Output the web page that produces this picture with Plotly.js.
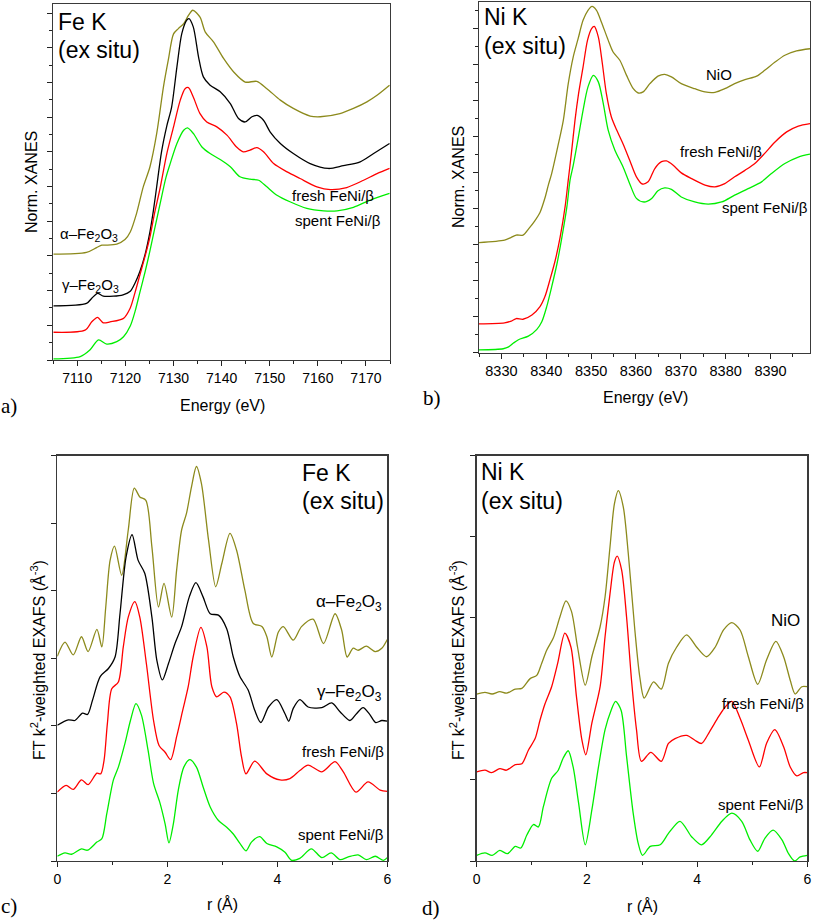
<!DOCTYPE html>
<html>
<head>
<meta charset="utf-8">
<script src="https://cdn.plot.ly/plotly-3.0.1.min.js"></script>
<style>html,body{margin:0;padding:0;background:#fff}#chart{width:813px;height:921px}</style>
</head>
<body>
<div id="chart"></div>
<script>
// ---------- Panel a: Fe K XANES ----------
const aAlphaE = [7105.0,7111.9,7114.0,7115.1,7116.1,7118.2,7119.9,7121.0,7122.3,7123.7,7125.1,7126.5,7127.9,7128.9,7130.0,7131.0,7132.1,7133.1,7134.0,7135.5,7136.6,7138.3,7140.4,7142.5,7144.9,7147.3,7149.4,7152.2,7154.9,7158.4,7160.5,7164.6,7167.4,7170.2,7172.3,7174.9];
const aAlpha  = [3.05,3.10,3.24,3.31,3.31,3.34,3.47,3.69,4.22,4.99,5.57,6.53,7.87,8.64,9.40,9.55,9.69,9.93,10.08,9.88,9.45,9.17,8.69,8.30,8.01,8.03,7.82,7.49,7.25,7.03,7.01,7.10,7.25,7.44,7.63,7.92];
const aGammaE = [7105.0,7111.9,7113.0,7114.2,7115.4,7117.5,7119.5,7121.0,7122.0,7123.0,7124.1,7125.1,7125.8,7126.5,7127.5,7128.6,7129.6,7130.7,7131.7,7132.7,7133.2,7134.1,7135.2,7136.2,7137.6,7139.7,7141.8,7143.5,7144.9,7146.3,7147.4,7148.7,7150.1,7152.2,7154.9,7158.4,7162.2,7165.3,7168.8,7171.6,7174.9];
const aGamma  = [1.56,1.63,1.78,1.92,1.84,1.84,1.88,1.98,2.22,2.55,3.05,3.70,4.30,5.00,6.00,6.75,7.29,8.45,9.40,9.79,9.84,9.60,8.73,8.16,7.92,7.73,7.39,6.96,6.86,7.01,7.05,6.91,6.57,6.24,5.95,5.66,5.52,5.60,5.71,5.95,6.24];
const aFreshE = [7105.0,7111.6,7113.0,7114.2,7115.4,7116.8,7119.6,7121.0,7122.0,7123.0,7124.1,7125.1,7126.0,7127.2,7128.6,7130.0,7131.4,7132.4,7133.1,7134.1,7135.5,7136.9,7139.0,7141.1,7143.1,7144.5,7145.9,7147.3,7148.7,7150.8,7153.6,7156.3,7159.8,7162.6,7166.0,7169.5,7172.3,7174.9];
const aFresh  = [0.80,0.86,1.10,1.23,1.07,1.10,1.20,1.50,1.95,2.45,3.00,3.55,4.20,4.95,5.95,6.72,7.49,7.82,7.85,7.58,7.10,6.86,6.72,6.48,6.14,6.00,6.05,6.12,6.00,5.66,5.42,5.23,4.99,4.91,4.97,5.18,5.37,5.52];
const aSpentE = [7105.0,7110.6,7112.6,7114.4,7116.1,7118.2,7119.6,7121.0,7122.0,7123.0,7124.1,7125.1,7126.1,7127.2,7128.4,7129.3,7130.7,7132.1,7132.9,7134.1,7135.9,7137.6,7139.7,7141.8,7143.8,7145.9,7147.7,7149.4,7151.5,7154.2,7157.7,7161.2,7164.0,7167.4,7170.9,7174.9];
const aSpent  = [0.03,0.10,0.29,0.58,0.46,0.53,0.67,0.98,1.40,1.95,2.55,3.15,3.80,4.50,5.25,5.66,6.24,6.62,6.69,6.53,6.14,5.95,5.78,5.57,5.28,5.21,5.18,4.99,4.75,4.56,4.37,4.30,4.30,4.40,4.61,4.80];

// ---------- Panel b: Ni K XANES ----------
const bNiOE   = [8324.9,8330.7,8332.1,8333.3,8334.8,8336.1,8337.4,8338.6,8339.7,8340.5,8341.2,8342.6,8343.8,8344.9,8346.0,8347.1,8348.2,8349.3,8350.2,8351.2,8352.3,8353.8,8354.9,8356.4,8357.9,8359.4,8360.5,8361.6,8363.1,8364.9,8366.4,8367.9,8370.1,8373.1,8375.4,8377.6,8379.8,8382.0,8384.3,8386.9,8388.7,8391.0,8393.2,8395.8,8398.8];
const bNiO    = [3.06,3.13,3.20,3.27,3.27,3.45,3.66,3.90,4.30,4.68,4.98,5.75,6.46,7.48,8.22,8.73,9.24,9.52,9.63,9.52,9.19,8.69,8.36,8.13,7.71,7.34,7.22,7.25,7.48,7.69,7.74,7.67,7.48,7.34,7.25,7.24,7.34,7.48,7.59,7.69,7.85,8.08,8.27,8.39,8.45];
const bFreshE = [8324.9,8330.7,8332.2,8333.3,8334.8,8336.8,8338.6,8339.7,8340.8,8342.0,8343.1,8344.2,8344.9,8345.6,8346.4,8347.2,8348.2,8349.2,8350.1,8350.7,8351.6,8352.5,8353.4,8354.5,8355.7,8357.1,8358.6,8360.1,8361.4,8362.7,8364.2,8365.7,8366.8,8368.3,8370.1,8372.4,8375.4,8377.6,8379.8,8382.0,8384.3,8386.5,8388.7,8391.0,8393.6,8396.2,8398.8];
const bFresh  = [0.80,0.83,0.88,0.95,0.93,1.05,1.28,1.56,2.02,2.57,3.22,4.06,4.80,5.54,6.46,7.20,7.94,8.69,9.01,9.07,8.78,8.04,7.20,6.56,6.19,5.81,5.35,4.89,4.69,4.75,5.12,5.31,5.33,5.21,5.00,4.84,4.66,4.61,4.70,4.89,5.07,5.26,5.54,5.86,6.14,6.30,6.37];
const bSpentE = [8324.9,8330.4,8331.6,8332.7,8333.8,8336.0,8337.9,8339.0,8340.1,8341.2,8342.4,8343.5,8344.6,8345.3,8346.0,8347.1,8348.2,8349.3,8350.5,8351.6,8352.7,8353.8,8355.3,8357.1,8358.6,8360.1,8361.8,8363.5,8364.9,8366.4,8367.9,8370.1,8373.1,8376.1,8379.1,8382.0,8385.0,8388.0,8390.2,8393.2,8396.2,8398.8];
const bSpent  = [0.08,0.11,0.16,0.27,0.36,0.46,0.65,0.86,1.28,1.83,2.48,3.22,4.06,4.80,5.20,5.95,6.74,7.39,7.71,7.53,6.93,6.19,5.63,5.17,4.70,4.29,4.19,4.29,4.50,4.58,4.54,4.33,4.19,4.13,4.19,4.38,4.56,4.75,4.98,5.26,5.44,5.52];

// ---------- Panel c: Fe K FT-EXAFS ----------
const cAlphaR = [0.00,0.14,0.29,0.44,0.56,0.72,0.81,0.88,0.96,1.04,1.17,1.29,1.40,1.50,1.61,1.72,1.84,1.94,2.08,2.17,2.26,2.35,2.44,2.53,2.62,2.75,2.88,2.99,3.14,3.26,3.41,3.56,3.72,3.81,3.90,4.02,4.11,4.29,4.44,4.65,4.84,5.05,5.17,5.27,5.38,5.47,5.62,5.78,5.90,6.00];
const cAlpha  = [3.03,3.24,3.05,3.32,3.10,3.43,3.17,3.75,4.45,4.66,4.23,4.90,5.52,5.39,5.34,4.65,3.76,4.11,3.61,4.31,4.90,5.15,5.54,5.84,5.59,4.75,4.06,4.40,4.85,4.60,4.01,3.52,3.47,3.32,3.02,3.39,3.47,3.27,3.47,3.58,3.22,3.66,3.42,3.02,3.15,3.12,3.18,3.10,3.15,3.28];
const cGammaR = [0.00,0.20,0.32,0.46,0.55,0.64,0.78,0.93,1.05,1.14,1.25,1.36,1.47,1.59,1.72,1.81,1.91,2.02,2.14,2.26,2.40,2.52,2.65,2.78,2.93,3.08,3.20,3.32,3.47,3.59,3.70,3.84,3.99,4.14,4.21,4.29,4.41,4.56,4.81,4.99,5.14,5.32,5.44,5.56,5.68,5.79,5.90,6.00];
const cGamma  = [2.01,2.09,2.08,2.19,2.17,2.38,2.73,2.85,3.02,3.66,4.50,4.83,4.45,4.26,3.61,2.97,2.68,2.92,3.22,3.47,3.91,4.12,3.91,3.66,3.64,3.44,3.02,2.73,2.53,2.23,2.05,2.28,2.39,2.18,2.07,2.26,2.39,2.28,2.27,2.34,2.21,2.08,2.18,2.27,2.17,2.05,2.08,2.07];
const cFreshR = [0.00,0.16,0.29,0.44,0.56,0.72,0.79,0.85,0.91,0.99,1.11,1.20,1.29,1.41,1.50,1.62,1.75,1.85,1.96,2.06,2.17,2.28,2.38,2.47,2.61,2.72,2.81,2.90,3.03,3.14,3.26,3.35,3.43,3.59,3.81,4.05,4.23,4.41,4.56,4.81,5.05,5.20,5.43,5.65,5.87,6.00];
const cFresh  = [1.02,1.12,1.06,1.20,1.13,1.30,1.29,1.49,2.03,2.55,2.65,3.17,3.61,3.84,3.61,2.92,2.08,1.71,1.61,1.50,1.84,2.23,2.58,3.02,3.46,3.17,2.58,2.43,2.50,2.43,2.03,1.54,1.29,1.48,1.29,1.20,1.22,1.34,1.42,1.32,1.47,1.32,1.02,1.17,1.05,1.03];
const cSpentR = [0.00,0.14,0.26,0.44,0.55,0.72,0.81,0.90,1.02,1.11,1.23,1.33,1.43,1.53,1.65,1.75,1.87,1.96,2.03,2.11,2.20,2.30,2.41,2.53,2.65,2.78,2.93,3.08,3.20,3.32,3.43,3.53,3.68,3.81,3.99,4.14,4.26,4.41,4.62,4.81,4.98,5.14,5.29,5.47,5.62,5.78,5.93,6.00];
const cSpent  = [0.07,0.12,0.10,0.18,0.16,0.28,0.33,0.70,1.20,1.39,1.74,2.08,2.33,2.16,1.64,1.15,0.85,0.55,0.27,0.55,1.05,1.39,1.50,1.39,1.10,0.80,0.60,0.50,0.40,0.26,0.15,0.28,0.36,0.26,0.21,0.13,0.01,0.04,0.18,0.05,0.12,0.02,0.06,0.09,0.02,0.07,0.01,0.05];

// ---------- Panel d: Ni K FT-EXAFS ----------
const dNiOR   = [0.00,0.15,0.28,0.42,0.54,0.70,0.82,0.97,1.09,1.18,1.27,1.39,1.51,1.62,1.72,1.83,1.97,2.09,2.24,2.33,2.42,2.50,2.57,2.66,2.75,2.87,2.96,3.04,3.21,3.35,3.48,3.63,3.81,3.99,4.17,4.33,4.48,4.63,4.78,4.93,5.10,5.26,5.43,5.57,5.69,5.78,5.90,6.00];
const dNiO    = [2.06,2.08,2.06,2.09,2.07,2.12,2.13,2.25,2.29,2.44,2.60,2.75,3.01,3.21,3.08,2.64,2.17,2.52,2.89,3.26,3.88,4.41,4.57,4.37,3.80,2.85,2.27,2.01,2.21,2.12,2.44,2.64,2.79,2.64,2.52,2.64,2.85,2.94,2.85,2.52,2.18,2.48,2.71,2.52,2.23,2.06,2.15,2.15];
const dFreshR = [0.00,0.15,0.27,0.42,0.54,0.70,0.82,0.94,1.06,1.15,1.24,1.36,1.47,1.60,1.71,1.81,1.91,1.98,2.09,2.24,2.33,2.42,2.50,2.55,2.63,2.72,2.81,2.90,2.99,3.16,3.35,3.48,3.60,3.81,3.96,4.08,4.23,4.39,4.51,4.63,4.78,4.93,5.13,5.26,5.41,5.57,5.69,5.81,5.93,6.00];
const dFresh  = [1.10,1.12,1.09,1.14,1.12,1.19,1.20,1.37,1.51,1.74,1.94,2.15,2.44,2.81,2.64,2.03,1.49,1.31,1.70,2.15,2.77,3.30,3.69,3.76,3.59,3.01,2.23,1.62,1.23,1.34,1.23,1.45,1.51,1.55,1.49,1.45,1.60,1.78,1.90,1.97,1.76,1.49,1.16,1.45,1.62,1.41,1.16,1.05,1.09,1.09];
const dSpentR = [0.00,0.15,0.28,0.42,0.56,0.70,0.80,0.91,1.03,1.12,1.21,1.36,1.48,1.57,1.66,1.75,1.85,1.97,2.09,2.21,2.33,2.44,2.52,2.62,2.72,2.84,2.93,3.01,3.15,3.33,3.48,3.69,3.90,4.08,4.26,4.45,4.63,4.81,4.96,5.10,5.23,5.38,5.54,5.66,5.77,5.87,6.00];
const dSpent  = [0.07,0.10,0.07,0.13,0.09,0.18,0.16,0.32,0.45,0.42,0.67,1.02,1.12,1.27,1.36,1.16,0.71,0.20,0.63,1.16,1.62,1.86,1.97,1.86,1.29,0.59,0.22,0.07,0.18,0.20,0.34,0.49,0.30,0.20,0.32,0.49,0.59,0.49,0.26,0.12,0.28,0.38,0.26,0.09,0.00,0.05,0.07];

// ---------- Labels ----------
const xanesXTitle = 'Energy (eV)';
const xanesYTitle = 'Norm. XANES';
const exafsXTitle = 'r (Å)';
const exafsYTitle = 'FT k<sup>2</sup>-weighted EXAFS (Å<sup>-3</sup>)';
const edgeFe = 'Fe K', edgeNi = 'Ni K', exSitu = '(ex situ)';
const lblAlpha = 'α–Fe<sub>2</sub>O<sub>3</sub>';
const lblGamma = 'γ–Fe<sub>2</sub>O<sub>3</sub>';
const lblFresh = 'fresh FeNi/β';
const lblSpent = 'spent FeNi/β';
const lblNiO = 'NiO';
const panelLetters = ['a)','b)','c)','d)'];

// ---------- Styles ----------
const OLIVE = '#8c8a1c', BLACK = '#000000', RED = '#ff0000', GREEN = '#00ee00';
const W = 813, H = 921;

function tr(x, y, color, xa, ya) {
  return {x: x, y: y, type: 'scatter', mode: 'lines', xaxis: xa, yaxis: ya,
          line: {color: color, width: 1.3, shape: 'spline', smoothing: 0.8}, hoverinfo: 'skip'};
}
const data = [
  tr(aAlphaE, aAlpha, OLIVE, 'x', 'y'),
  tr(aGammaE, aGamma, BLACK, 'x', 'y'),
  tr(aFreshE, aFresh, RED, 'x', 'y'),
  tr(aSpentE, aSpent, GREEN, 'x', 'y'),
  tr(bNiOE, bNiO, OLIVE, 'x2', 'y2'),
  tr(bFreshE, bFresh, RED, 'x2', 'y2'),
  tr(bSpentE, bSpent, GREEN, 'x2', 'y2'),
  tr(cAlphaR, cAlpha, OLIVE, 'x3', 'y3'),
  tr(cGammaR, cGamma, BLACK, 'x3', 'y3'),
  tr(cFreshR, cFresh, RED, 'x3', 'y3'),
  tr(cSpentR, cSpent, GREEN, 'x3', 'y3'),
  tr(dNiOR, dNiO, OLIVE, 'x4', 'y4'),
  tr(dFreshR, dFresh, RED, 'x4', 'y4'),
  tr(dSpentR, dSpent, GREEN, 'x4', 'y4')
];

function px(x0, x1) { return [x0 / W, x1 / W]; }
function py(ytop, ybot) { return [1 - ybot / H, 1 - ytop / H]; }

const axBase = {showline: true, mirror: true, linecolor: '#3a3a3a', linewidth: 1.3,
  showgrid: false, zeroline: false, ticks: 'outside', ticklen: 5, tickwidth: 1, tickcolor: '#222',
  tickfont: {size: 14, color: '#000'}, fixedrange: true};

function xax(dom, range, tick0, dtick, mdtick, anchor, fsize) {
  return Object.assign({}, axBase, {domain: dom, range: range, tick0: tick0, dtick: dtick, anchor: anchor,
    tickfont: {size: fsize, color: '#000'},
    minor: {dtick: mdtick, tick0: tick0, ticks: 'outside', ticklen: 3, tickcolor: '#222', showgrid: false}});
}
function yax(dom, range, mdtick, anchor) {
  const o = Object.assign({}, axBase, {domain: dom, range: range, tick0: 0, dtick: 1, anchor: anchor, showticklabels: false});
  if (mdtick) o.minor = {dtick: mdtick, tick0: 0, ticks: 'outside', ticklen: 3, tickcolor: '#222', showgrid: false};
  return o;
}

function ann(text, x, y, size, xanchor, opts) {
  return Object.assign({text: text, x: x / W, y: 1 - y / H, xref: 'paper', yref: 'paper', showarrow: false,
    xanchor: xanchor, yanchor: 'middle', font: {size: size, color: '#000', family: 'Liberation Sans, Arial, sans-serif'}}, opts || {});
}
const serif = {family: 'Liberation Serif, Times New Roman, serif', size: 21, color: '#000'};

const annotations = [
  // panel a
  ann(edgeFe, 56, 22, 23, 'left'),
  ann(exSitu, 56, 50, 23, 'left'),
  ann(lblAlpha, 58, 234, 15, 'left'),
  ann(lblGamma, 60, 285, 15, 'left'),
  ann(lblFresh, 376, 196, 15, 'right'),
  ann(lblSpent, 383, 220, 15, 'right'),
  ann(xanesXTitle, 222, 405, 16, 'center'),
  ann(xanesYTitle, 32, 182, 16, 'center', {textangle: -90}),
  Object.assign(ann(panelLetters[0], 9, 406, 21, 'center'), {font: serif}),
  // panel b
  ann(edgeNi, 482, 17, 23, 'left'),
  ann(exSitu, 482, 46, 23, 'left'),
  ann(lblNiO, 734, 74, 15, 'right'),
  ann(lblFresh, 764, 152, 15, 'right'),
  ann(lblSpent, 810, 207, 15, 'right'),
  ann(xanesXTitle, 645, 397, 16, 'center'),
  ann(xanesYTitle, 459, 177, 16, 'center', {textangle: -90}),
  Object.assign(ann(panelLetters[1], 432, 398, 21, 'center'), {font: serif}),
  // panel c
  ann(edgeFe, 300, 473, 23, 'left'),
  ann(exSitu, 300, 501, 23, 'left'),
  ann(lblAlpha, 384, 603, 17, 'right'),
  ann(lblGamma, 384, 693, 17, 'right'),
  ann(lblFresh, 386, 751, 15, 'right'),
  ann(lblSpent, 386, 834, 15, 'right'),
  ann(exafsXTitle, 222, 904, 16, 'center'),
  ann(exafsYTitle, 38, 660, 16, 'center', {textangle: -90}),
  Object.assign(ann(panelLetters[2], 9, 906, 21, 'center'), {font: serif}),
  // panel d
  ann(edgeNi, 479, 472, 23, 'left'),
  ann(exSitu, 479, 501, 23, 'left'),
  ann(lblNiO, 802, 620, 17, 'right'),
  ann(lblFresh, 806, 703, 15, 'right'),
  ann(lblSpent, 806, 804, 15, 'right'),
  ann(exafsXTitle, 642, 906, 16, 'center'),
  ann(exafsYTitle, 457, 660, 16, 'center', {textangle: -90}),
  Object.assign(ann(panelLetters[3], 431, 908, 21, 'center'), {font: serif})
];

const layout = {
  width: W, height: H, margin: {l: 0, r: 0, t: 0, b: 0, pad: 0},
  paper_bgcolor: '#ffffff', plot_bgcolor: '#ffffff', showlegend: false,
  font: {family: 'Liberation Sans, Arial, sans-serif', color: '#000'},
  xaxis:  xax(px(53.3, 390), [7105, 7175], 7110, 10, 5, 'y', 14),
  yaxis:  yax(py(4, 360), [0, 10.26], 0.5, 'x'),
  xaxis2: xax(px(479, 810), [8325, 8398.8], 8330, 10, 5, 'y2', 14.5),
  yaxis2: yax(py(2, 352.7), [0, 9.75], 0.5, 'x2'),
  xaxis3: xax(px(57.3, 387.3), [0, 6], 0, 2, 1, 'y3', 14),
  yaxis3: yax(py(455.7, 861), [0, 6], null, 'x3'),
  xaxis4: xax(px(476.7, 807.3), [0, 6], 0, 2, 1, 'y4', 14),
  yaxis4: yax(py(455.7, 861), [0, 5], null, 'x4'),
  annotations: annotations
};

Plotly.newPlot('chart', data, layout, {displayModeBar: false, staticPlot: true});
</script>
</body>
</html>
